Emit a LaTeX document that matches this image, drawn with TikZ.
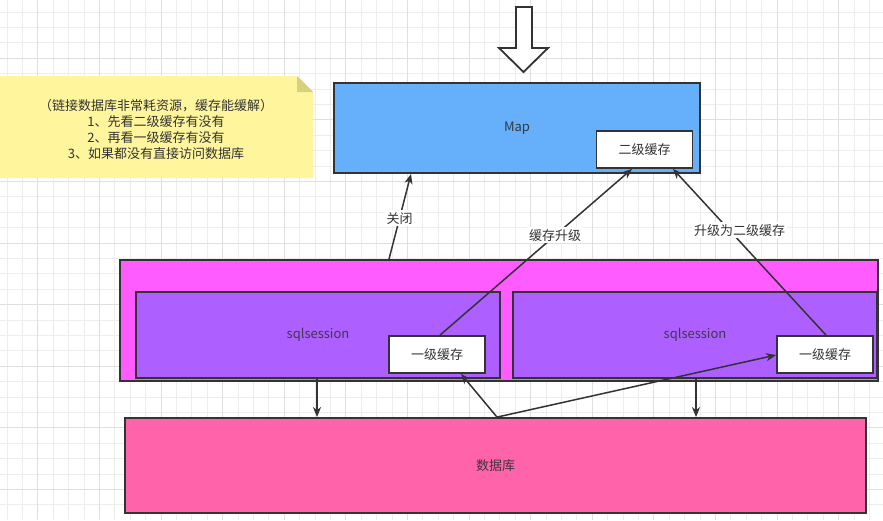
\documentclass[tikz,border=0pt]{standalone}
\usepackage{fontspec}
\setmainfont{Noto Sans CJK SC}
\usetikzlibrary{arrows.meta}
\definecolor{gridminor}{HTML}{EDEDED}
\definecolor{gridmajor}{HTML}{DFDFDF}
\definecolor{ink}{HTML}{333333}
\definecolor{mapblue}{HTML}{66AFFA}
\definecolor{outermag}{HTML}{FF5CFF}
\definecolor{sessionpurple}{HTML}{AD60FF}
\definecolor{dbpink}{HTML}{FF63AA}
\definecolor{noteyellow}{HTML}{FFF59D}
\definecolor{notefold}{HTML}{D8D07A}
\tikzset{
  box/.style={draw=ink, line width=1.8pt, inner sep=0pt, font=\fontsize{13}{15}\selectfont},
  cache/.style={box, fill=white, text=ink, minimum width=96pt, minimum height=37pt},
  conn/.style={draw=ink, line width=1.5pt, -{Stealth[length=10pt,width=8pt,inset=3pt]}},
  tag/.style={fill=white, text=ink, inner sep=2pt, font=\fontsize{13}{15}\selectfont},
}
\begin{document}
\begin{tikzpicture}[x=1pt,y=-1pt]
\useasboundingbox (0,0) rectangle (883,520);
\fill[white] (0,0) rectangle (883,520);
% background grid
\foreach \k in {0,...,56} \draw[gridminor, line width=0.8pt] ({7+15.4*\k},0) -- ({7+15.4*\k},520);
\foreach \k in {0,...,32} \draw[gridminor, line width=0.8pt] (0,{12+15.4*\k}) -- (883,{12+15.4*\k});
\foreach \k in {2,6,...,54} \draw[gridmajor, line width=1pt] ({7+15.4*\k},0) -- ({7+15.4*\k},520);
\foreach \k in {3,7,...,31} \draw[gridmajor, line width=1pt] (0,{12+15.4*\k}) -- (883,{12+15.4*\k});

% hollow arrow pointing into the map
\draw[ink, fill=white, line width=1.8pt, line join=miter]
  (516,7) -- (532,7) -- (532,48) -- (548,48) -- (523.5,72) -- (499,48) -- (516,48) -- cycle;

% sticky note
\fill[noteyellow] (0,76) -- (297,76) -- (313,92) -- (313,178) -- (0,178) -- cycle;
\fill[notefold] (297,76) -- (313,92) -- (297,92) -- cycle;
\node[align=center, text=ink, font=\fontsize{13}{16}\selectfont] (note) at (156,129)
  {（链接数据库非常耗资源，缓存能缓解）\\1、先看二级缓存有没有\\2、再看一级缓存有没有\\3、如果都没有直接访问数据库};

% map with second-level cache
\node[box, fill=mapblue, text=ink!95!mapblue, minimum width=366pt, minimum height=90pt] (map) at (517,128) {};
\node[text=ink!95!mapblue, font=\fontsize{13}{15}\selectfont] (maplabel) at (517,128) {Map};
\node[cache] (l2) at (644.5,149.5) {二级缓存};

% sessions container
\node[box, fill=outermag, minimum width=758pt, minimum height=121pt] (outer) at (499,320.5) {};
\node[box, fill=sessionpurple, text=ink!90!sessionpurple, minimum width=364pt, minimum height=86pt] (s1) at (318,335) {sqlsession};
\node[box, fill=sessionpurple, text=ink!90!sessionpurple, minimum width=364pt, minimum height=86pt] (s2) at (695,335) {sqlsession};
\node[cache] (c1) at (437,354.5) {一级缓存};
\node[cache] (c2) at (825,354.5) {一级缓存};

% database
\node[box, fill=dbpink, text=ink!95!dbpink, minimum width=741pt, minimum height=95pt] (db) at (495.5,465.5) {数据库};

% connector end points on the box borders
\coordinate (closeA) at (outer.north -| 389,0);
\coordinate (closeB) at (map.south -| 411,0);
\coordinate (upA) at (c1.north -| 440,0);
\coordinate (upB) at (l2.south -| 632,0);
\coordinate (promA) at (c2.north -| 826,0);
\coordinate (promB) at (l2.south -| 673,0);
\coordinate (s1out) at (s1.south -| 317,0);
\coordinate (db1in) at (db.north -| 317,0);
\coordinate (s2out) at (s2.south -| 696,0);
\coordinate (db2in) at (db.north -| 696,0);
\coordinate (dbout) at (db.north -| 497,0);
\coordinate (c1in) at (c1.south -| 461,0);
\coordinate (c2in) at (c2.west |- 0,355);

% connectors
\draw[conn] (closeA) -- node[tag, pos=0.48] {关闭} (closeB);
\draw[conn] (upA) -- node[tag, pos=0.6] {缓存升级} (upB);
\draw[conn] (promA) -- node[tag, pos=0.63, xshift=10pt] {升级为二级缓存} (promB);
\draw[conn] (s1out) -- (db1in);
\draw[conn] (s2out) -- (db2in);
\draw[conn] (dbout) -- (c1in);
\draw[conn] (dbout) -- (c2in);
\end{tikzpicture}
\end{document}
